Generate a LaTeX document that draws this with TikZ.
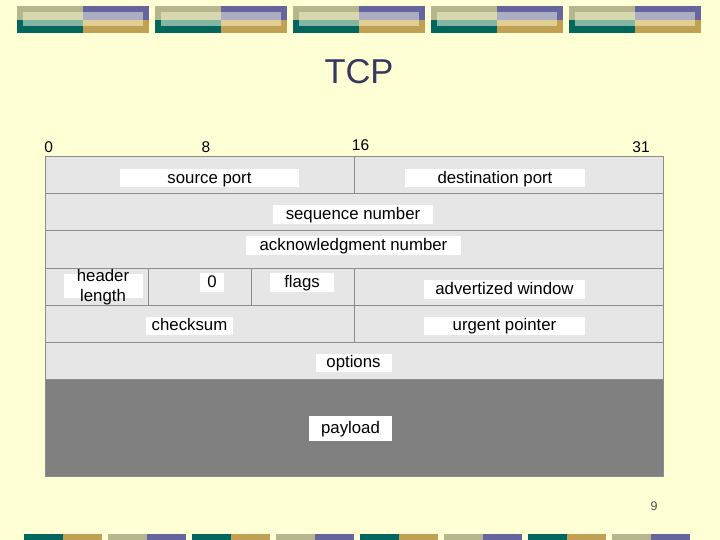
\documentclass[tikz,border=0pt]{standalone}
\usepackage{fontspec}
\setmainfont{Liberation Sans}
\usetikzlibrary{positioning}
\definecolor{SlideYellow}{RGB}{255,255,213}
\definecolor{BarTan}{RGB}{182,182,142}
\definecolor{BarPurple}{RGB}{102,102,158}
\definecolor{BarTeal}{RGB}{0,102,94}
\definecolor{BarGold}{RGB}{192,160,82}
\definecolor{LightTan}{RGB}{216,216,176}
\definecolor{LightPurple}{RGB}{172,172,194}
\definecolor{LightTeal}{RGB}{130,182,162}
\definecolor{LightGold}{RGB}{224,206,146}
\definecolor{TitleBlue}{RGB}{55,55,95}
\definecolor{RowGray}{RGB}{230,230,230}
\definecolor{RuleGray}{RGB}{140,140,140}
\definecolor{PayloadGray}{RGB}{128,128,128}
\tikzset{
  field/.style={fill=white, inner sep=0pt, text height=13pt, text depth=2.5pt,
    font=\fontsize{16.8}{20}\selectfont},
  fieldtxt/.style={inner sep=0pt, align=center, font=\fontsize{16.8}{20}\selectfont},
  bitnum/.style={inner sep=0pt, font=\fontsize{15.5}{18}\selectfont},
  rowline/.style={draw=RuleGray, line width=1pt},
}

\begin{document}
\begin{tikzpicture}[x=1pt, y=-1pt]
  \useasboundingbox (0,0) rectangle (720,540);
  \fill[SlideYellow] (0,0) rectangle (720,540);
  % slide bars
  \foreach \i [evaluate=\i as \bx using 17+138*\i] in {0,...,4} {
    \fill[BarTan] (\bx,6) rectangle ++(66,14);
    \fill[BarPurple] (\bx+66,6) rectangle ++(66,14);
    \fill[BarTeal] (\bx,20) rectangle ++(66,13);
    \fill[BarGold] (\bx+66,20) rectangle ++(66,13);
    \fill[LightTan] (\bx+6,12) rectangle ++(60,8);
    \fill[LightPurple] (\bx+66,12) rectangle ++(60,8);
    \fill[LightTeal] (\bx+6,20) rectangle ++(60,6);
    \fill[LightGold] (\bx+66,20) rectangle ++(60,6);
  }
  \foreach \i [evaluate=\i as \bx using 24+168*\i] in {0,...,3} {
    \fill[BarTeal] (\bx,534) rectangle ++(39,6);
    \fill[BarGold] (\bx+39,534) rectangle ++(39,6);
    \fill[BarTan] (\bx+84,534) rectangle ++(39,6);
    \fill[BarPurple] (\bx+123,534) rectangle ++(39,6);
  }
  \node[font=\fontsize{34.5}{40}\selectfont, text=TitleBlue, inner sep=0pt] (title) at (359,72) {TCP};
  % header table
  \fill[RowGray] (45,157) rectangle (663,379);
  \fill[PayloadGray] (45,379) rectangle (663,476);
  \foreach \y in {194,231,268,305,342,379}
    \draw[rowline] (45,\y) -- (663,\y);
  \draw[rowline] (354,157) -- (354,194);
  \draw[rowline] (354,268) -- (354,342);
  \draw[rowline] (148,268) -- (148,305);
  \draw[rowline] (251,268) -- (251,305);
  \draw[rowline] (45,157) rectangle (663,476);
  \node[bitnum] (b0) at (48.7,147) {0};
  \node[bitnum] (b8) at (206,147) {8};
  \node[bitnum] (b16) at (360.5,145) {16};
  \node[bitnum] (b31) at (641,147.5) {31};
  \node[field, minimum width=179, minimum height=18] (srcport) at (209.5,178) {source port};
  \node[field, minimum width=180, minimum height=18] (dstport) at (495,178) {destination port};
  \node[field, minimum width=160, minimum height=19] (seqnum) at (353,214.5) {sequence number};
  \node[field, minimum width=215, minimum height=19] (acknum) at (353.5,245.5) {acknowledgment number};
  \node[fill=white, minimum width=79, minimum height=24, inner sep=0pt] (hlenbox) at (103,286) {};
  \node[fieldtxt] (hlen) at (103,287) {header\\length};
  \node[field, minimum width=24, minimum height=19] (zero) at (212,282.5) {0};
  \node[field, minimum width=64, minimum height=19] (flags) at (302,282.5) {flags};
  \node[field, minimum width=161, minimum height=19] (advwin) at (504.5,289) {advertized window};
  \node[field, minimum width=87, minimum height=18] (csum) at (189.5,325.5) {checksum};
  \node[field, minimum width=161, minimum height=18] (urgptr) at (504.5,325.5) {urgent pointer};
  \node[field, minimum width=76, minimum height=18] (opts) at (353.5,362.5) {options};
  \node[field, minimum width=83, minimum height=25] (payload) at (350.5,428) {payload};
  \node[inner sep=0pt, font=\fontsize{12.5}{14}\selectfont, text=black!70] (pagenum) at (654,506.5) {9};
\end{tikzpicture}
\end{document}
